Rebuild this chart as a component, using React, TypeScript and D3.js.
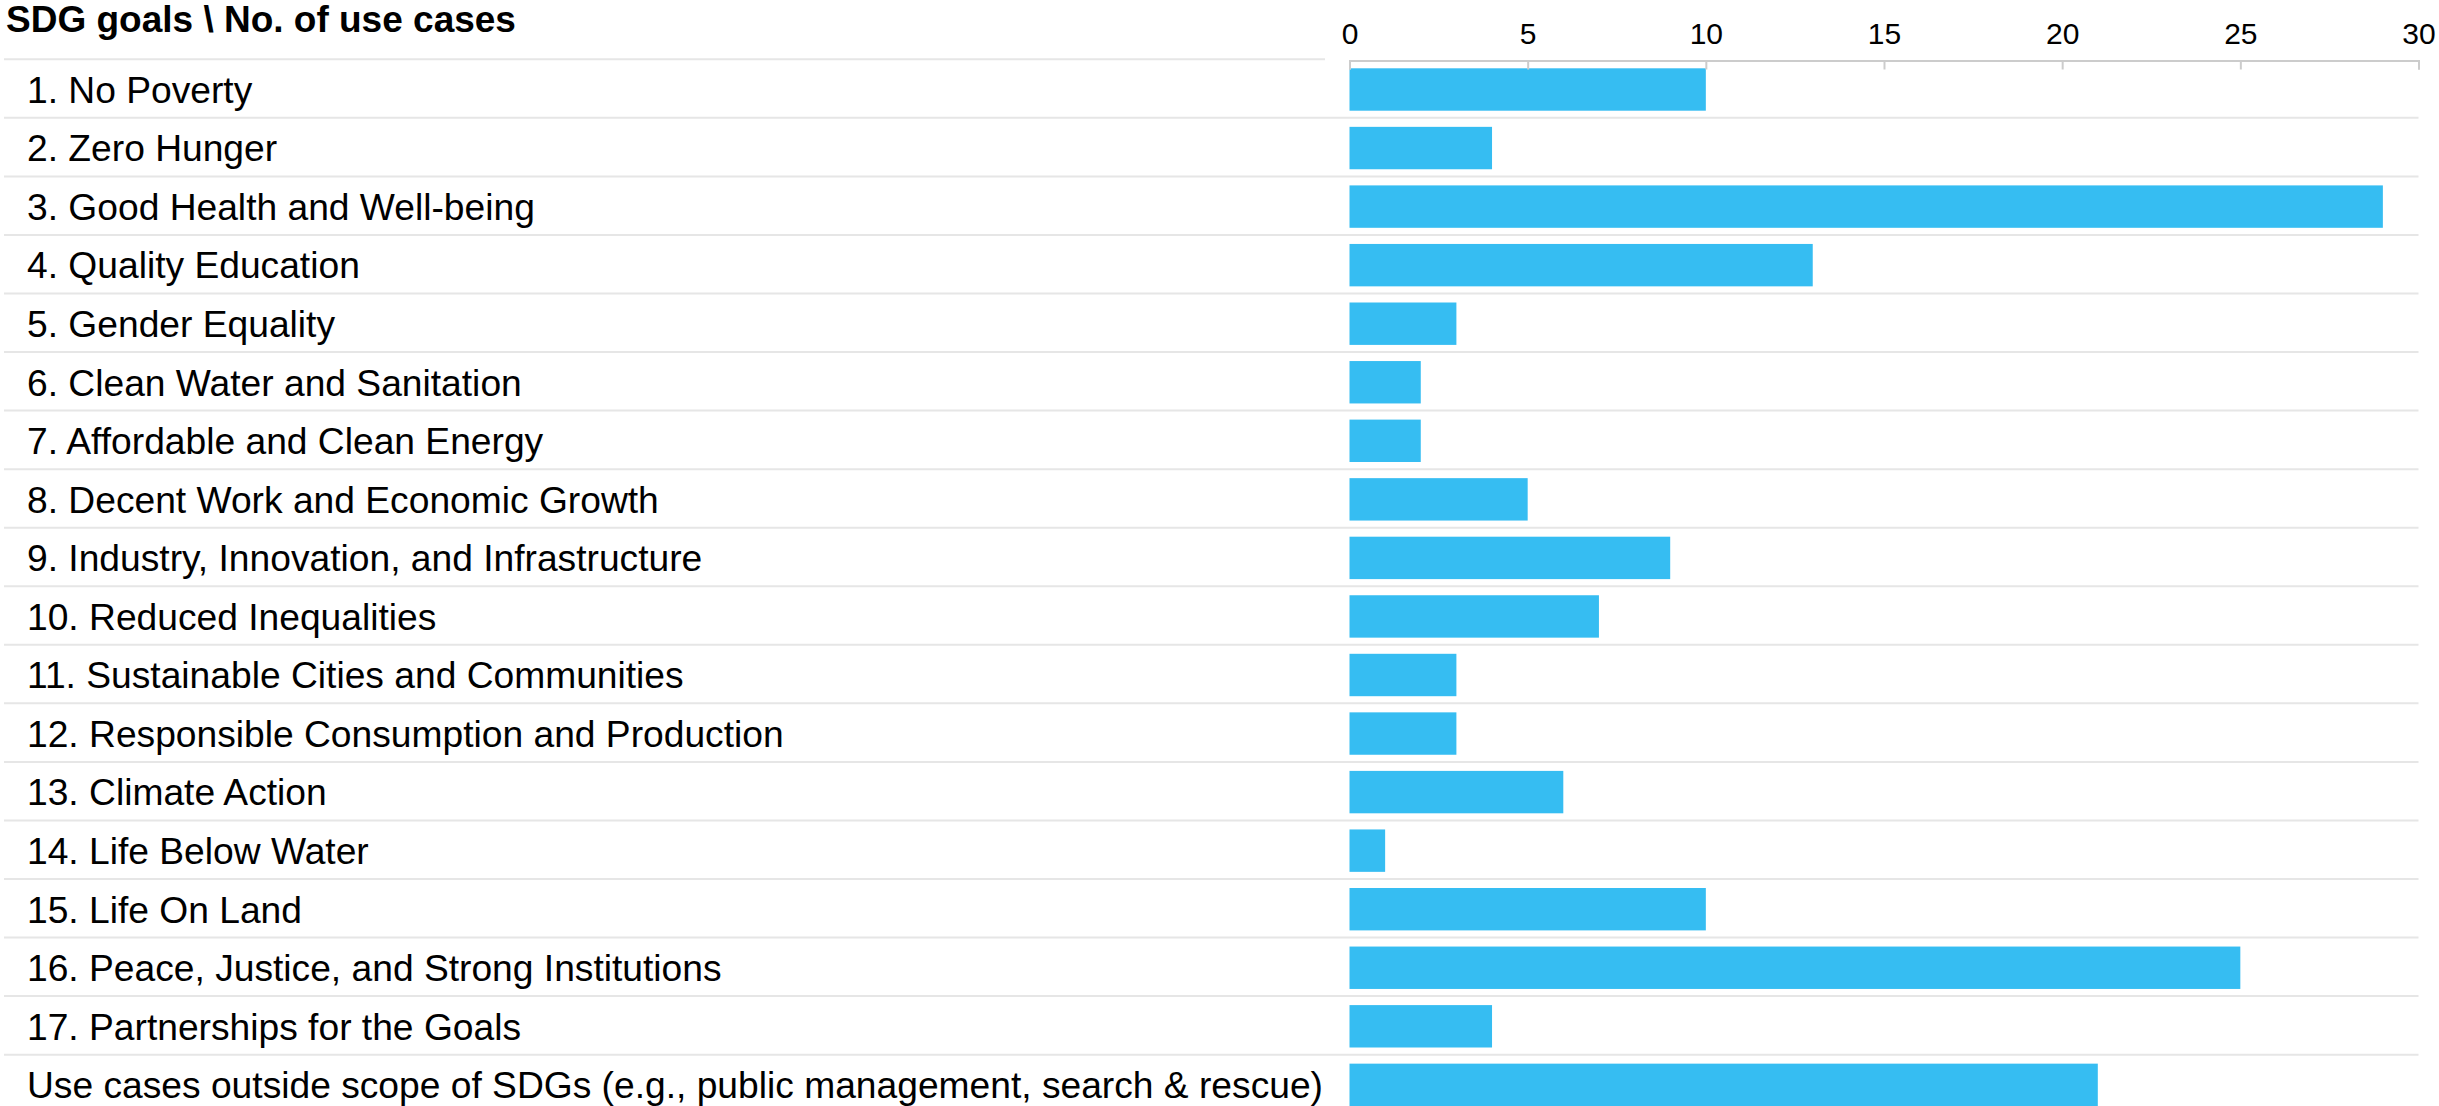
import React from "react";
import * as d3 from "d3";

const categories: string[] = [
  "1. No Poverty",
  "2. Zero Hunger",
  "3. Good Health and Well-being",
  "4. Quality Education",
  "5. Gender Equality",
  "6. Clean Water and Sanitation",
  "7. Affordable and Clean Energy",
  "8. Decent Work and Economic Growth",
  "9. Industry, Innovation, and Infrastructure",
  "10. Reduced Inequalities",
  "11. Sustainable Cities and Communities",
  "12. Responsible Consumption and Production",
  "13. Climate Action",
  "14. Life Below Water",
  "15. Life On Land",
  "16. Peace, Justice, and Strong Institutions",
  "17. Partnerships for the Goals",
  "Use cases outside scope of SDGs (e.g., public management, search & rescue)",
];
const useCases: number[] = [10, 4, 29, 13, 3, 2, 2, 5, 9, 7, 3, 3, 6, 1, 10, 25, 4, 21];
const xTicks: number[] = [0, 5, 10, 15, 20, 25, 30];
const headerTitle = "SDG goals \\ No. of use cases";

const W = 2439;
const H = 1106;
const FONT = "'Liberation Sans', Arial, Helvetica, sans-serif";
const BAR_COLOR = "#36bdf2";
const GRID_COLOR = "#e6e6e6";
const AXIS_COLOR = "#cccccc";

export default function App() {
  const axisRef = React.useRef<SVGGElement>(null);

  const x = d3.scaleLinear().domain([0, 30]).range([1349.5, 2418.5]);
  const step = 58.55;
  const top = 59.3;
  const rowY = d3
    .scaleBand<string>()
    .domain(categories)
    .range([top, top + step * categories.length])
    .paddingInner(0)
    .paddingOuter(0);
  const barInset = 9;
  const barH = 42.4;
  const labelSize = 37.2;

  React.useEffect(() => {
    if (!axisRef.current) return;
    const g = d3.select(axisRef.current);
    g.selectAll("*").remove();
    const axis = d3
      .axisTop(x)
      .tickValues(xTicks)
      .tickFormat(d3.format("d"))
      .tickSizeInner(-9)
      .tickSizeOuter(-9)
      .tickPadding(17);
    g.call(axis);
    g.select(".domain").attr("stroke", AXIS_COLOR).attr("stroke-width", 2);
    g.selectAll(".tick line").attr("stroke", AXIS_COLOR).attr("stroke-width", 2);
    g.selectAll(".tick text")
      .attr("fill", "#000")
      .attr("font-size", 30)
      .attr("font-family", FONT);
  }, []);

  return (
    <svg
      width={W}
      height={H}
      style={{ position: "absolute", left: 0, top: 0, background: "#fff" }}
      fontFamily={FONT}
    >
      <rect x={0} y={0} width={W} height={H} fill="#fff" />
      <text x={6} y={31.5} fontSize={37} fontWeight="bold" fill="#000">
        {headerTitle}
      </text>
      {categories.map((c, i) => {
        const y0 = rowY(c) as number;
        return (
          <g key={c}>
            <line
              x1={4}
              x2={i === 0 ? 1325 : x(30)}
              y1={y0}
              y2={y0}
              stroke={GRID_COLOR}
              strokeWidth={2}
            />
            <rect
              x={x(0)}
              y={y0 + barInset}
              width={x(useCases[i]) - x(0)}
              height={barH}
              fill={BAR_COLOR}
            />
            <text
              x={27}
              y={y0 + barInset + barH / 2 + labelSize * 0.716 / 2}
              fontSize={labelSize}
              fill="#000"
            >
              {c}
            </text>
          </g>
        );
      })}
      <g ref={axisRef} transform={`translate(0,${60.5})`} />
    </svg>
  );
}
